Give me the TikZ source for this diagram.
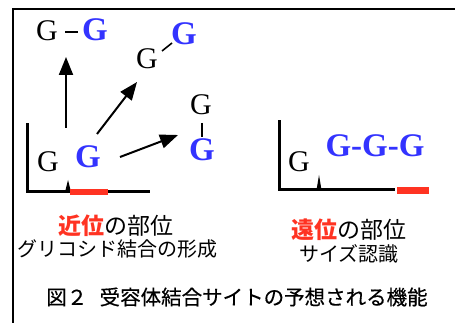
\documentclass[tikz,border=0pt]{standalone}
\usepackage{fontspec}
\setmainfont{Liberation Serif}
\newfontfamily\jp{Noto Sans CJK JP}
\newfontfamily\jpb{Noto Sans CJK JP}[FakeBold=0.4]
\usetikzlibrary{arrows.meta}
\definecolor{gblue}{RGB}{51,51,255}
\definecolor{gred}{RGB}{255,51,34}
\tikzset{
  gblk/.style={inner sep=0pt, font=\fontsize{30}{30}\selectfont},
  gbl/.style={inner sep=0pt, text=gblue, font=\fontsize{33}{33}\selectfont\bfseries},
  axis/.style={line width=3pt, line cap=rect},
  arr/.style={line width=2pt, -{Triangle[length=18pt,width=14pt]}},
  bond/.style={line width=1.6pt},
  jtext/.style={inner sep=0pt, font=\jp\fontsize{20}{20}\selectfont},
  jhead/.style={inner sep=0pt, font=\jp\fontsize{23}{23}\selectfont},
}
\begin{document}
\begin{tikzpicture}[x=1pt,y=-1pt]
\useasboundingbox (0,0) rectangle (455,323);
% frame
\draw[line width=2pt] (12.5,323) -- (12.5,9.5) -- (455,9.5);
% left plot
\draw[axis] (27,125) -- (27,192) -- (148,192);
\fill (65,192) -- (68,180) -- (71,192) -- cycle;
\fill[gred] (70,189) rectangle (108,195.5);
\node[gblk] (g1) at (48,162) {G};
\node[gbl] (b1) at (88,157) {G};
% up product
\node[gblk] (g2) at (47,31) {G};
\node[gbl] (b2) at (95,30) {G};
\draw[bond] (65,32) -- (78,32);
% diagonal product
\node[gblk] (g3) at (147,59) {G};
\node[gbl] (b3) at (184,34) {G};
\draw[bond] (162,51) -- (172,43);
% right product
\node[gblk] (g4) at (201,105) {G};
\node[gbl] (b4) at (202,150) {G};
\draw[bond] (202,123) -- (202,137);
% arrows
\coordinate (a1s) at (66,128); \coordinate (a1e) at (66,57);
\coordinate (a2s) at (97,134); \coordinate (a2e) at (137,82);
\coordinate (a3s) at (120,157); \coordinate (a3e) at (178,135);
\draw[arr] (a1s) -- (a1e);
\draw[arr] (a2s) -- (a2e);
\draw[arr] (a3s) -- (a3e);
% right plot
\draw[axis] (279,122) -- (279,190) -- (393,190);
\fill (316.5,190) -- (319,175) -- (321.5,190) -- cycle;
\fill[gred] (397,187) rectangle (429,194);
\node[gblk] (g5) at (299,162) {G};
\node[gbl] (b5) at (375,146) {G-G-G};
% texts
\node[jhead] (t1) at (116,226) {\textcolor{gred}{\bfseries 近位}の部位};
\node[jtext] (t2) at (117,249) {グリコシド結合の形成};
\node[jhead] (t3) at (349,230) {\textcolor{gred}{\bfseries 遠位}の部位};
\node[jtext] (t4) at (349,254) {サイズ認識};
\node[inner sep=0pt, font=\jpb\fontsize{20.5}{20.5}\selectfont] (cap) at (237,297) {図２\hspace{0.6em}受容体結合サイトの予想される機能};
\end{tikzpicture}
\end{document}
